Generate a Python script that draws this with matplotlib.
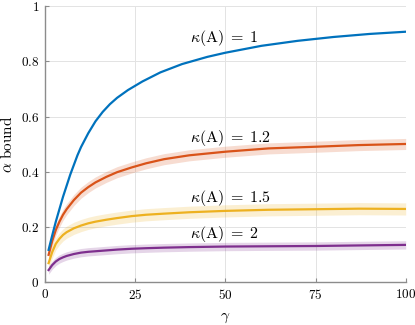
"""alpha bound vs gamma for several condition numbers kappa(A)."""

import matplotlib
matplotlib.use("Agg")
import matplotlib.pyplot as plt
import numpy as np

plt.rcParams["mathtext.fontset"] = "cm"
plt.rcParams["font.family"] = "serif"
plt.rcParams["font.serif"] = ["cmr10", "DejaVu Serif"]
plt.rcParams["axes.unicode_minus"] = False

# kappa(A) = 1 (smooth, no spread)
gamma_k1 = [1, 2, 3, 4, 5, 6, 7, 8, 9, 10, 12, 14, 16, 18, 20, 23, 27, 32, 38, 45,
            50, 60, 70, 80, 90, 100]
alpha_k1 = [0.118, 0.17, 0.22, 0.265, 0.31, 0.35, 0.39, 0.425, 0.46, 0.49, 0.54,
            0.583, 0.617, 0.645, 0.668, 0.696, 0.727, 0.76, 0.79, 0.816, 0.831,
            0.856, 0.874, 0.888, 0.899, 0.907]

# noisy runs: mean and half-width of the shaded band
gamma_runs = [1, 2, 3, 4, 5, 6, 8, 10, 12, 14, 17, 20, 24, 28, 33, 40, 50, 62, 75, 87, 100]
alpha_k12 = [0.1, 0.15, 0.19, 0.22, 0.245, 0.265, 0.298, 0.325, 0.345, 0.362, 0.382,
             0.399, 0.416, 0.431, 0.446, 0.46, 0.473, 0.485, 0.491, 0.497, 0.501]
alpha_k15 = [0.07, 0.11, 0.14, 0.158, 0.172, 0.182, 0.196, 0.206, 0.214, 0.22, 0.227,
             0.233, 0.24, 0.245, 0.249, 0.254, 0.259, 0.263, 0.265, 0.267, 0.266]
alpha_k2 = [0.045, 0.063, 0.076, 0.085, 0.091, 0.096, 0.103, 0.108, 0.111, 0.113, 0.116,
            0.119, 0.122, 0.124, 0.126, 0.128, 0.13, 0.131, 0.132, 0.134, 0.136]
spread = {"1.2": 0.02, "1.5": 0.022, "2": 0.015}

labels = {"1": (40.2, 0.883), "1.2": (40.2, 0.521), "1.5": (40.2, 0.305), "2": (40.2, 0.175)}
colors = {"1": "#0072BD", "1.2": "#D95319", "1.5": "#EDB120", "2": "#7E2F8E"}

xticks = [0, 25, 50, 75, 100]
yticks = [0, 0.2, 0.4, 0.6, 0.8, 1]
ytick_labels = ["0", "0.2", "0.4", "0.6", "0.8", "1"]

fig = plt.figure(figsize=(4.15, 3.25), dpi=100)
ax = fig.add_axes([0.1084, 0.1308, 0.8692, 0.8507])

ax.plot(gamma_k1, alpha_k1, color=colors["1"], lw=1.6, zorder=4)
for key, vals in [("1.2", alpha_k12), ("1.5", alpha_k15), ("2", alpha_k2)]:
    v = np.array(vals)
    ax.fill_between(gamma_runs, v - spread[key], v + spread[key],
                    color=colors[key], alpha=0.2, lw=0, zorder=2)
    ax.plot(gamma_runs, v, color=colors[key], lw=1.6, zorder=3)

for key, (x, y) in labels.items():
    ax.text(x, y, r"$\kappa(\mathrm{A})\;=\;%s$" % key, fontsize=11.5,
            ha="left", va="center", zorder=5)

ax.set_xlim(0, 100); ax.set_ylim(0, 1)
ax.set_xticks(xticks)
ax.set_xticklabels([f"${t}$" for t in xticks])
ax.set_yticks(yticks)
ax.set_yticklabels([f"${t}$" for t in ytick_labels])
ax.tick_params(direction="in", length=3, width=0.8, color="#8c8c8c",
               labelsize=9.5, pad=4)
ax.grid(True, color="#e3e3e3", lw=0.7)
ax.set_axisbelow(True)
for s in ("top", "right"):
    ax.spines[s].set_visible(False)
for s in ("left", "bottom"):
    ax.spines[s].set_color("#8c8c8c")
    ax.spines[s].set_linewidth(1.0)

ax.set_xlabel(r"$\gamma$", fontsize=11, labelpad=6)
ax.set_ylabel(r"$\alpha\ \mathrm{bound}$", fontsize=11, labelpad=4)

fig.savefig("out.png", dpi=100)
